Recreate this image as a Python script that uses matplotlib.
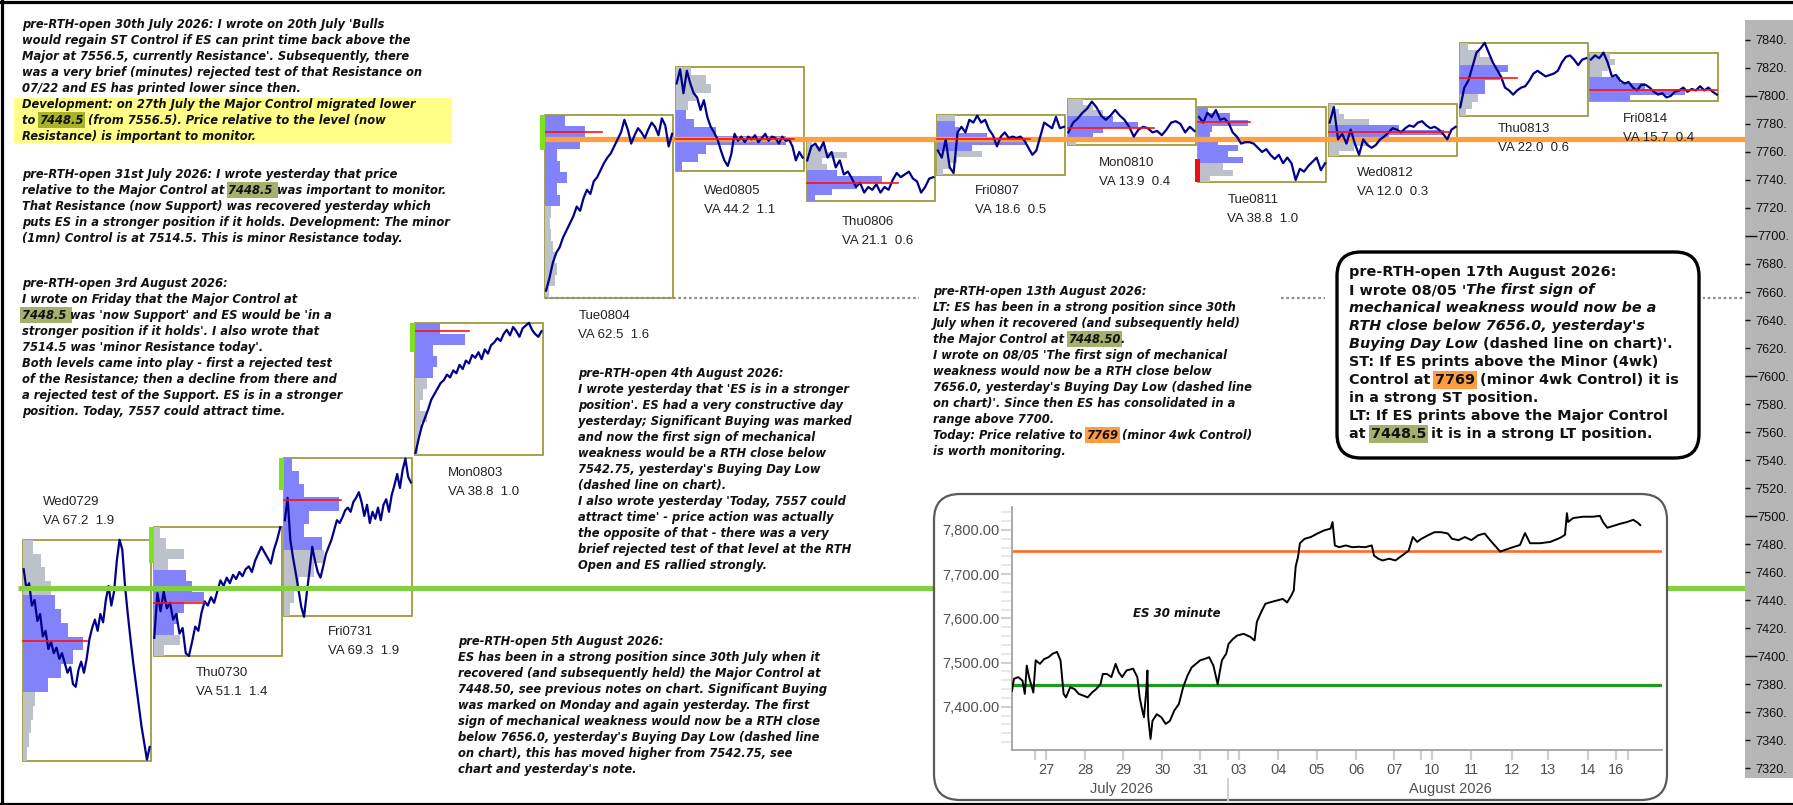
import numpy as np
import matplotlib
matplotlib.use("Agg")
import matplotlib.pyplot as plt
from matplotlib.patches import Rectangle, FancyBboxPatch
from matplotlib.lines import Line2D
from matplotlib.transforms import IdentityTransform

W, H = 1793, 805

# ---------------- main chart data ----------------
days = ["Wed0729", "Thu0730", "Fri0731", "Mon0803", "Tue0804", "Wed0805", "Thu0806",
        "Fri0807", "Mon0810", "Tue0811", "Wed0812", "Thu0813", "Fri0814"]
va_info = ["VA 67.2  1.9", "VA 51.1  1.4", "VA 69.3  1.9", "VA 38.8  1.0", "VA 62.5  1.6",
           "VA 44.2  1.1", "VA 21.1  0.6", "VA 18.6  0.5", "VA 13.9  0.4", "VA 38.8  1.0",
           "VA 12.0  0.3", "VA 22.0  0.6", "VA 15.7  0.4"]
day_hi = [7483, 7492, 7541.5, 7638, 7786.5, 7821, 7769, 7786.5, 7798, 7792, 7794.5, 7838, 7831]
day_lo = [7325, 7400, 7428.5, 7543.5, 7656, 7746.5, 7725, 7743.5, 7765, 7738.5, 7757, 7785.5, 7796.5]
poc = [7410.5, 7438, 7511.5, 7632, 7774.5, 7769, 7738, 7769, 7777, 7781.5, 7774.5, 7813, 7804.5]
poc_vol = [64, 50, 57, 54, 57, 118, 91, 93, 86, 52, 120, 57, 127]
va_hi = [7447, 7462, 7542, 7638, 7787, 7791, 7749, 7781, 7785, 7791, 7781, 7824, 7813]
va_lo = [7376, 7412, 7472, 7599, 7724, 7748, 7726, 7762, 7771, 7754, 7769, 7802, 7797]

# volume profile, top -> bottom, equal price bins between day high and low
profiles = [
    [10, 18, 22, 28, 32, 38, 45, 60, 50, 38, 25, 12, 10, 8, 6, 4],
    [6, 12, 30, 14, 32, 38, 50, 30, 24, 20, 26, 10],
    [8, 15, 20, 55, 25, 20, 38, 40, 30, 15, 10, 6],
    [25, 50, 18, 22, 18, 12, 8, 5, 12, 6, 4, 3],
    [20, 40, 35, 12, 15, 22, 12, 15, 6, 5, 6, 8, 10, 12, 10, 4],
    [15, 30, 35, 20, 12, 10, 18, 40, 110, 30, 22, 6],
    [5, 18, 40, 15, 20, 30, 75, 50, 25, 8],
    [18, 18, 22, 50, 90, 35, 45, 20, 12, 6],
    [15, 25, 35, 45, 70, 35, 25, 8],
    [10, 32, 50, 14, 12, 20, 40, 30, 45, 25, 35, 12],
    [6, 10, 15, 40, 70, 115, 60, 40, 25, 10],
    [8, 20, 32, 48, 40, 25, 25, 18, 12, 6],
    [20, 25, 18, 12, 30, 55, 95, 40],
]

# price path of each session
paths = [
    [7462, 7448, 7452, 7436, 7440, 7425, 7430, 7414, 7418, 7405, 7410, 7402, 7406, 7398, 7402, 7395,
     7388, 7392, 7380, 7378, 7390, 7396, 7388, 7398, 7412, 7420, 7426, 7418, 7430, 7424, 7440, 7450,
     7436, 7446, 7468, 7483, 7476, 7450, 7430, 7412, 7395, 7380, 7365, 7350, 7338, 7326, 7335],
    [7413, 7445, 7432, 7446, 7434, 7438, 7426, 7430, 7416, 7420, 7402, 7400, 7410, 7421, 7418, 7431,
     7439, 7436, 7442, 7438, 7446, 7454, 7450, 7456, 7452, 7458, 7455, 7460, 7457, 7462, 7464, 7460,
     7468, 7473, 7478, 7474, 7470, 7466, 7476, 7483, 7492],
    [7497, 7513, 7483, 7470, 7459, 7447, 7435, 7428, 7445, 7461, 7478, 7468, 7460, 7456, 7464, 7473,
     7478, 7483, 7490, 7497, 7495, 7499, 7504, 7506, 7503, 7510, 7513, 7517, 7510, 7500, 7508, 7495,
     7503, 7498, 7506, 7497, 7508, 7512, 7503, 7515, 7522, 7530, 7520, 7533, 7541, 7528, 7524],
    [7545, 7555, 7564, 7570, 7576, 7583, 7587, 7591, 7595, 7597, 7601, 7599, 7604, 7602, 7608, 7605,
     7611, 7609, 7615, 7613, 7617, 7612, 7619, 7616, 7622, 7624, 7627, 7625, 7630, 7633, 7629, 7635,
     7632, 7628, 7634, 7636, 7638, 7633, 7630, 7628, 7632],
    [7661, 7670, 7681, 7688, 7692, 7699, 7704, 7709, 7714, 7721, 7718, 7727, 7733, 7730, 7739, 7742,
     7747, 7752, 7756, 7759, 7764, 7769, 7774, 7783, 7776, 7766, 7772, 7777, 7774, 7770, 7776, 7781,
     7778, 7772, 7784, 7779, 7764, 7773],
    [7809, 7819, 7802, 7818, 7809, 7802, 7799, 7790, 7797, 7785, 7778, 7774, 7769, 7761, 7754, 7750,
     7758, 7773, 7768, 7771, 7767, 7771, 7769, 7772, 7767, 7770, 7773, 7768, 7771, 7770, 7766, 7771,
     7768, 7769, 7764, 7754, 7760, 7756],
    [7754, 7764, 7766, 7761, 7767, 7756, 7760, 7749, 7754, 7744, 7746, 7741, 7735, 7738, 7731, 7735,
     7733, 7737, 7731, 7735, 7733, 7740, 7745, 7742, 7744, 7746, 7741, 7739, 7731, 7735, 7741, 7742],
    [7761, 7756, 7769, 7749, 7745, 7774, 7778, 7774, 7783, 7781, 7786, 7781, 7783, 7776, 7772, 7764,
     7771, 7774, 7770, 7771, 7770, 7771, 7768, 7763, 7758, 7761, 7771, 7781, 7779, 7777, 7785, 7777,
     7778],
    [7774, 7781, 7784, 7788, 7791, 7796, 7792, 7786, 7783, 7786, 7790, 7786, 7783, 7778, 7771, 7776,
     7778, 7777, 7774, 7775, 7772, 7776, 7781, 7782, 7780, 7774, 7778, 7775],
    [7785, 7781, 7788, 7785, 7790, 7783, 7784, 7781, 7774, 7771, 7766, 7767, 7767, 7766, 7763, 7760,
     7762, 7758, 7755, 7758, 7752, 7756, 7752, 7740, 7748, 7746, 7750, 7753, 7756, 7747, 7752],
    [7781, 7792, 7769, 7773, 7766, 7776, 7766, 7758, 7769, 7765, 7763, 7765, 7769, 7771, 7774, 7777,
     7776, 7774, 7777, 7779, 7778, 7781, 7782, 7779, 7777, 7778, 7776, 7773, 7769, 7776, 7778],
    [7792, 7806, 7811, 7821, 7831, 7834, 7838, 7831, 7824, 7819, 7814, 7806, 7804, 7801, 7804, 7806,
     7807, 7811, 7816, 7818, 7816, 7814, 7815, 7816, 7818, 7824, 7828, 7829, 7826, 7822, 7826, 7827],
    [7826, 7829, 7827, 7831, 7824, 7814, 7815, 7811, 7809, 7810, 7806, 7804, 7808, 7808, 7806, 7803,
     7801, 7802, 7799, 7800, 7803, 7804, 7806, 7803, 7805, 7804, 7807, 7804, 7806, 7803, 7801],
]

buy_days = [1, 2, 3, 4]
buy_hi = [7492, 7541.5, 7638, 7786.5]
buy_lo = [7466.5, 7518.5, 7617, 7761.5]
sell_days = [9]
sell_hi = [7755]
sell_lo = [7738.5]

major_control = 7448.5
minor_control = 7769.0
buying_day_low = 7656.0

# ---------------- inset (ES 30 minute) data ----------------
inset_day = [0.0, 0.05, 0.16, 0.27, 0.33, 0.38, 0.44, 0.49, 0.55, 0.61,
             0.72, 0.83, 0.94, 1.05, 1.16, 1.25, 1.33, 1.39, 1.50, 1.61,
             1.72, 1.84, 1.95, 2.06, 2.17, 2.28, 2.34, 2.45, 2.56, 2.67,
             2.75, 2.84, 2.95, 3.12, 3.23, 3.29, 3.34, 3.40, 3.46, 3.49,
             3.51, 3.57, 3.62, 3.73, 3.85, 3.96, 4.07, 4.18, 4.30, 4.41,
             4.52, 4.63, 4.74, 4.85, 4.96, 5.08, 5.19, 5.30, 5.36, 5.41,
             5.52, 5.58, 5.69, 5.80, 5.97, 6.14, 6.25, 6.31, 6.42, 6.53,
             6.64, 6.81, 6.98, 7.09, 7.20, 7.26, 7.31, 7.37, 7.42, 7.54,
             7.70, 7.87, 8.04, 8.21, 8.26, 8.32, 8.43, 8.60, 8.77, 8.93,
             9.10, 9.27, 9.33, 9.44, 9.55, 9.72, 9.88, 10.05, 10.22, 10.33,
             10.44, 10.55, 10.72, 10.89, 11.06, 11.23, 11.34, 11.51, 11.67, 11.84,
             12.01, 12.18, 12.32, 12.58, 12.84, 13.09, 13.22, 13.35, 13.61, 13.87,
             14.12, 14.25, 14.30, 14.33, 14.46, 14.72, 14.97, 15.15, 15.23, 15.34,
             15.49, 15.67, 15.85, 16.01, 16.13, 16.19]
inset_price = [7436, 7463, 7467, 7459, 7429, 7493, 7467, 7451, 7432, 7505,
               7497, 7508, 7512, 7520, 7524, 7505, 7429, 7421, 7444, 7440,
               7429, 7425, 7421, 7432, 7440, 7451, 7474, 7474, 7467, 7497,
               7478, 7467, 7482, 7486, 7467, 7421, 7399, 7376, 7436, 7482,
               7376, 7327, 7368, 7383, 7376, 7361, 7368, 7391, 7406, 7444,
               7470, 7489, 7497, 7505, 7508, 7512, 7493, 7451, 7482, 7505,
               7520, 7542, 7553, 7561, 7565, 7558, 7550, 7592, 7614, 7633,
               7636, 7640, 7644, 7636, 7652, 7663, 7717, 7739, 7770, 7780,
               7784, 7792, 7799, 7803, 7818, 7765, 7761, 7765, 7761, 7762,
               7761, 7765, 7742, 7735, 7731, 7735, 7731, 7742, 7753, 7784,
               7773, 7780, 7788, 7795, 7795, 7792, 7780, 7777, 7784, 7777,
               7788, 7792, 7777, 7751, 7759, 7766, 7793, 7770, 7770, 7773,
               7782, 7789, 7838, 7818, 7827, 7830, 7830, 7832, 7818, 7805,
               7809, 7814, 7818, 7823, 7816, 7811]
inset_ticks = [0.88, 1.88, 2.86, 3.87, 4.85, 5.85, 6.86, 7.86, 8.87, 9.85,
               10.83, 11.83, 12.89, 13.81, 14.85, 15.57]
inset_ticklabels = ["27", "28", "29", "30", "31", "03", "04", "05", "06", "07",
                    "10", "11", "12", "13", "14", "16"]
inset_week_ticks = [0.59, 5.57, 10.54, 15.88]
inset_orange = 7752
inset_green = 7448.5

# ---------------- layout ----------------
SLOT = 130.6      # px per session slot
X0 = 23.0         # px of first slot
PXPT = 1.4        # px per point on the main price scale
BOXW = 0.98
lab_dx = [20, 42, 44, 33, 33, 28, 35, 38, 31, 29, 28, 38, 33]
lab_y = [502, 673, 632, 473, 316, 191, 222, 191, 163, 200, 173, 129, 119]

PX = IdentityTransform()
fig = plt.figure(figsize=(W / 100, H / 100), dpi=100)
fig.patch.set_facecolor("white")

ax = fig.add_axes([0, 0, 1745 / W, 1])
ax.set_xlim(-X0 / SLOT, (1745 - X0) / SLOT)
ax.set_ylim(7840 - (H - 40) / PXPT, 7840 + 40 / PXPT)
for s in ax.spines.values():
    s.set_visible(False)
ax.tick_params(axis="x", bottom=False, labelbottom=False)
ax.yaxis.tick_right()
major = list(range(7400, 7801, 100))
minor = [v for v in range(7320, 7841, 20) if v % 100]
ax.set_yticks(major)
ax.set_yticks(minor, minor=True)
ax.set_yticklabels(["%d." % v for v in major], fontfamily="Liberation Sans", fontsize=9.2)
ax.set_yticklabels(["%d." % v for v in minor], minor=True, fontfamily="Liberation Sans", fontsize=9.2)
ax.tick_params(axis="y", which="major", length=8.6, width=1, pad=0.3, colors="#111111")
ax.tick_params(axis="y", which="minor", length=3.6, width=1, pad=3.9, colors="#111111")

# gray price-scale panel
fig.add_artist(Rectangle((1745, H - 778), 60, 758, transform=PX, fc="#b6b6b6", ec="none", zorder=-1))

xmax = (1745 - X0) / SLOT
for i in range(len(days)):
    hi, lo = day_hi[i], day_lo[i]
    ax.add_patch(Rectangle((i, lo), BOXW, hi - lo, fill=False, ec="#9d9b3e", lw=1.3, zorder=2))
    prof = np.array(profiles[i], dtype=float)
    n = len(prof)
    step = (hi - lo) / n
    centers = hi - (np.arange(n) + 0.5) * step
    cols = ["#8282fa" if va_lo[i] <= c <= va_hi[i] else "#bcc1cb" for c in centers]
    ax.barh(centers, prof / SLOT, left=i, height=step, color=cols, lw=0, zorder=3)
    ax.plot([i, i + poc_vol[i] / SLOT], [poc[i], poc[i]], color="#ff1010", lw=1.2, zorder=5)
    xs = np.linspace(i + 0.005, i + BOXW - 0.01, len(paths[i]))
    ax.plot(xs, paths[i], color="#00008a", lw=1.6, zorder=4.6)

ax.bar(np.array(buy_days) - 0.038, np.array(buy_hi) - np.array(buy_lo), bottom=buy_lo,
       width=0.038, align="edge", color="#7ee01e", lw=0, zorder=5)
ax.bar(np.array(sell_days) - 0.025, np.array(sell_hi) - np.array(sell_lo), bottom=sell_lo,
       width=0.038, align="edge", color="#ee1010", lw=0, zorder=5)

ax.hlines(minor_control, 4, xmax, color="#ffa040", lw=3.8, zorder=4.2)
ax.hlines(buying_day_low, 4, xmax, color="#8c8c8c", lw=1.6, linestyles=(0, (1.2, 1.2)), zorder=3)
ax.hlines(major_control, -0.04, xmax, color="#80d040", lw=3.6, zorder=6)

for i in range(len(days)):
    x = X0 + SLOT * i + lab_dx[i]
    fig.text(x, H - lab_y[i], days[i], transform=PX, fontfamily="Liberation Sans", fontsize=9.5,
             color="#222222", va="center", zorder=3)
    fig.text(x, H - lab_y[i] - 18.5, va_info[i], transform=PX, fontfamily="Liberation Sans",
             fontsize=9.5, color="#222222", va="center", zorder=3)

# ---------------- notes ----------------
renderer = fig.canvas.get_renderer()
NOTE = dict(family="DejaVu Sans", weight="bold", style="italic", size=8.3, color="#111111")
BOXU = dict(family="DejaVu Sans", weight="bold", style="normal", size=10.4, color="#111111")
BOXI = dict(BOXU, style="italic")
OLV = "#a4b06c"
OLV2 = "#a7b32a"
ORG = "#ff9c42"
_bar = {}


def seg_w(s, st):
    key = tuple(sorted(st.items()))
    if key not in _bar:
        t = fig.text(0, 0, "|", transform=PX, **st)
        _bar[key] = t.get_window_extent(renderer).width
        t.remove()
    t = fig.text(0, 0, s + "|", transform=PX, **st)
    w = t.get_window_extent(renderer).width
    t.remove()
    return w - _bar[key]


def block(x, y0, lines, st, dy=16):
    for k, line in enumerate(lines):
        segs = [(line, None)] if isinstance(line, str) else line
        xx = x
        for seg in segs:
            s, bg = seg[0], seg[1]
            sst = seg[2] if len(seg) > 2 else st
            kw = {}
            if bg:
                kw["bbox"] = dict(boxstyle="square,pad=0.14", fc=bg, ec="none")
            fig.text(xx, H - (y0 + k * dy), s, transform=PX, va="center", ha="left", zorder=3, **sst, **kw)
            xx += seg_w(s, sst)


fig.add_artist(Rectangle((14, H - 143), 438, 45, transform=PX, fc="#ffff88", ec="none", zorder=0.9))
block(22, 24, [
    "pre-RTH-open 30th July 2026: I wrote on 20th July 'Bulls",
    "would regain ST Control if ES can print time back above the",
    "Major at 7556.5, currently Resistance'. Subsequently, there",
    "was a very brief (minutes) rejected test of that Resistance on",
    "07/22 and ES has printed lower since then.",
    "Development: on 27th July the Major Control migrated lower",
    [("to ", None), ("7448.5", OLV2), (" (from 7556.5). Price relative to the level (now", None)],
    "Resistance) is important to monitor.",
], NOTE)
block(22, 174, [
    "pre-RTH-open 31st July 2026: I wrote yesterday that price",
    [("relative to the Major Control at ", None), ("7448.5 ", OLV), ("was important to monitor.", None)],
    "That Resistance (now Support) was recovered yesterday which",
    "puts ES in a stronger position if it holds. Development: The minor",
    "(1mn) Control is at 7514.5. This is minor Resistance today.",
], NOTE)
block(22, 283, [
    "pre-RTH-open 3rd August 2026:",
    "I wrote on Friday that the Major Control at",
    [("7448.5 ", OLV), ("was 'now Support' and ES would be 'in a", None)],
    "stronger position if it holds'. I also wrote that",
    "7514.5 was 'minor Resistance today'.",
    "Both levels came into play - first a rejected test",
    "of the Resistance; then a decline from there and",
    "a rejected test of the Support. ES is in a stronger",
    "position. Today, 7557 could attract time.",
], NOTE)
block(578, 373, [
    "pre-RTH-open 4th August 2026:",
    "I wrote yesterday that 'ES is in a stronger",
    "position'. ES had a very constructive day",
    "yesterday; Significant Buying was marked",
    "and now the first sign of mechanical",
    "weakness would be a RTH close below",
    "7542.75, yesterday's Buying Day Low",
    "(dashed line on chart).",
    "I also wrote yesterday 'Today, 7557 could",
    "attract time' - price action was actually",
    "the opposite of that - there was a very",
    "brief rejected test of that level at the RTH",
    "Open and ES rallied strongly.",
], NOTE)
block(458, 641, [
    "pre-RTH-open 5th August 2026:",
    "ES has been in a strong position since 30th July when it",
    "recovered (and subsequently held) the Major Control at",
    "7448.50, see previous notes on chart. Significant Buying",
    "was marked on Monday and again yesterday. The first",
    "sign of mechanical weakness would now be a RTH close",
    "below 7656.0, yesterday's Buying Day Low (dashed line",
    "on chart), this has moved higher from 7542.75, see",
    "chart and yesterday's note.",
], NOTE)
fig.add_artist(Rectangle((919, H - 462), 361, 182, transform=PX, fc="white", ec="none", zorder=0.9))
block(933, 291, [
    "pre-RTH-open 13th August 2026:",
    "LT: ES has been in a strong position since 30th",
    "July when it recovered (and subsequently held)",
    [("the Major Control at ", None), ("7448.50", OLV), (".", None)],
    "I wrote on 08/05 'The first sign of mechanical",
    "weakness would now be a RTH close below",
    "7656.0, yesterday's Buying Day Low (dashed line",
    "on chart)'. Since then ES has consolidated in a",
    "range above 7700.",
    [("Today: Price relative to ", None), ("7769", ORG), (" (minor 4wk Control)", None)],
    "is worth monitoring.",
], NOTE)

# 17th August box
fig.add_artist(Rectangle((1325, H - 458), 378, 206, transform=PX, fc="white", ec="none", zorder=0.9))
fig.add_artist(FancyBboxPatch((1337, H - 458), 362, 206, boxstyle="round,pad=0,rounding_size=24",
                              transform=PX, fc="white", ec="black", lw=2.4, zorder=1))
block(1349, 272, [
    [("pre-RTH-open 17th August 2026:", None, BOXU)],
    [("I wrote 08/05 '", None, BOXU), ("The first sign of", None, BOXI)],
    [("mechanical weakness would now be a", None, BOXI)],
    [("RTH close below 7656.0, yesterday's", None, BOXI)],
    [("Buying Day Low ", None, BOXI), ("(dashed line on chart)'.", None, BOXU)],
    [("ST: If ES prints above the Minor (4wk)", None, BOXU)],
    [("Control at ", None, BOXU), ("7769", ORG, BOXU), (" (minor 4wk Control) it is", None, BOXU)],
    [("in a strong ST position.", None, BOXU)],
    [("LT: If ES prints above the Major Control", None, BOXU)],
    [("at ", None, BOXU), ("7448.5", OLV, BOXU), (" it is in a strong LT position.", None, BOXU)],
], BOXU, dy=18)

# ---------------- inset ----------------
fig.add_artist(FancyBboxPatch((934, H - 800), 733, 306, boxstyle="round,pad=0,rounding_size=26",
                              transform=PX, fc="white", ec="#5a5a5a", lw=1.6, zorder=1))
ax2 = fig.add_axes([1012 / W, (H - 750) / H, 650 / W, 243 / H])
ax2.set_zorder(2)
ax2.plot(inset_day, inset_price, color="black", lw=1.4, zorder=3)
ax2.axhline(inset_orange, color="#ff6a28", lw=1.9, zorder=2)
ax2.axhline(inset_green, color="#1e9a1e", lw=2.3, zorder=2)
ax2.set_xlim(0, 16.75)
ax2.set_ylim(7302, 7852)
for side in ["top", "right"]:
    ax2.spines[side].set_visible(False)
for side in ["left", "bottom"]:
    ax2.spines[side].set_color("#a8a8a8")
    ax2.spines[side].set_linewidth(1.4)
ax2.set_yticks([7400, 7500, 7600, 7700, 7800])
ax2.set_yticks(list(range(7320, 7850, 20)), minor=True)
ax2.set_yticklabels(["{:,.2f}".format(v) for v in [7400, 7500, 7600, 7700, 7800]],
                    fontfamily="Liberation Sans", fontsize=10.5, color="#505050")
ax2.tick_params(axis="y", which="major", length=8, width=1.4, color="#cfcfcf", pad=1)
ax2.tick_params(axis="y", which="minor", length=8, width=1.2, color="#e4e4e4")
ax2.set_xticks(inset_ticks)
ax2.set_xticks(inset_week_ticks, minor=True)
ax2.set_xticklabels(inset_ticklabels, fontfamily="Liberation Sans", fontsize=10.5, color="#505050")
ax2.tick_params(axis="x", which="both", length=7.5, width=1.6, color="#cfcfcf", pad=2)
ax2.text(2.81, -0.16, "July 2026", transform=ax2.get_xaxis_transform(), ha="center", va="center",
         fontfamily="Liberation Sans", fontsize=10.5, color="#505050")
ax2.text(11.29, -0.16, "August 2026", transform=ax2.get_xaxis_transform(), ha="center", va="center",
         fontfamily="Liberation Sans", fontsize=10.5, color="#505050")
ax2.plot([5.57, 5.57], [-0.12, -0.205], transform=ax2.get_xaxis_transform(), color="#cfcfcf",
         lw=1.4, clip_on=False)
ax2.text(3.12, 7611, "ES 30 minute", fontfamily="DejaVu Sans", fontweight="bold", fontstyle="italic",
         fontsize=8.5, color="#111111", va="center")

# outer frame
for xy in [((0, W), (H - 1.5, H - 1.5)), ((1.5, 1.5), (0, H)), ((0, W), (1.5, 1.5))]:
    fig.add_artist(Line2D(xy[0], xy[1], transform=PX, color="black", lw=2.3, zorder=5))

fig.savefig("out.png", dpi=100)
